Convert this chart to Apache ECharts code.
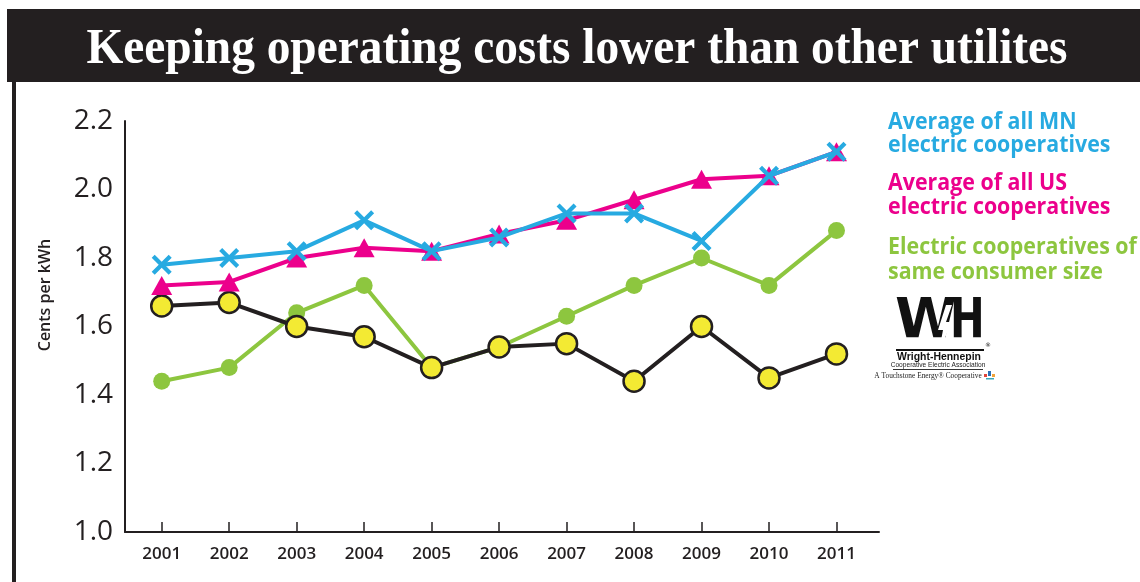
<!DOCTYPE html>
<html>
<head>
<meta charset="utf-8">
<title>Keeping operating costs lower than other utilites</title>
<script src="https://cdn.jsdelivr.net/npm/echarts@6/dist/echarts.min.js"></script>
<style>
  html, body { margin: 0; padding: 0; background: #ffffff; }
  #chart { width: 1140px; height: 582px; }
</style>
</head>
<body>
<div id="chart"></div>
<script>
// Cost of electricity, cents per kWh, 2001-2011
const years = [2001, 2002, 2003, 2004, 2005, 2006, 2007, 2008, 2009, 2010, 2011];
const yTicks = [1.0, 1.2, 1.4, 1.6, 1.8, 2.0, 2.2];

const mnCoops    = [1.78, 1.80, 1.82, 1.91, 1.82, 1.86, 1.93, 1.93, 1.85, 2.04, 2.11];
const usCoops    = [1.72, 1.73, 1.80, 1.83, 1.82, 1.87, 1.91, 1.97, 2.03, 2.04, 2.11];
const sameSize   = [1.44, 1.48, 1.64, 1.72, 1.48, 1.54, 1.63, 1.72, 1.80, 1.72, 1.88];
const wrightHenn = [1.66, 1.67, 1.60, 1.57, 1.48, 1.54, 1.55, 1.44, 1.60, 1.45, 1.52];

const titleText = 'Keeping operating costs lower than other utilites';
const legendLines = [
  { text: 'Average of all MN', color: '#27aae1' },
  { text: 'electric cooperatives', color: '#27aae1' },
  { text: 'Average of all US', color: '#ec008c' },
  { text: 'electric cooperatives', color: '#ec008c' },
  { text: 'Electric cooperatives of', color: '#8dc63f' },
  { text: 'same consumer size', color: '#8dc63f' }
];

const INK = '#231f20';
const pair = vals => vals.map((v, i) => [years[i], v]);

// thick "x" marker as a filled outline
const crossPath = 'path://M3,0 L10,7 L17,0 L20,3 L13,10 L20,17 L17,20 L10,13 L3,20 L0,17 L7,10 L0,3 Z';

// fit the condensed-looking headline into its band
function textWidth(str, font) {
  const c = document.createElement('canvas').getContext('2d');
  c.font = font;
  return c.measureText(str).width;
}
const titleFont = 'bold 50px "Liberation Serif"';
const titleScale = 981 / textWidth(titleText, titleFont);

const legendY = [122, 145, 183, 207, 247, 272];

const chart = echarts.init(document.getElementById('chart'), null, { renderer: 'canvas' });

const graphics = [
  { type: 'rect', shape: { x: 7, y: 9, width: 1133, height: 73 }, style: { fill: INK }, z: 0 },
  { type: 'rect', shape: { x: 12, y: 82, width: 4, height: 500 }, style: { fill: INK }, z: 0 },
  {
    type: 'text', x: 577, y: 50, scaleX: titleScale, scaleY: 1,
    style: { text: titleText, font: titleFont, fill: '#ffffff', align: 'center', verticalAlign: 'middle' }
  },
  {
    type: 'text', x: 45, y: 295, rotation: Math.PI / 2,
    style: { text: 'Cents per kWh', fontFamily: 'Open Sans', fontWeight: 600, fontSize: 16, fill: INK, align: 'center', verticalAlign: 'middle' }
  }
];

legendLines.forEach((l, i) => {
  graphics.push({
    type: 'text', x: 888, y: legendY[i], scaleX: 0.93, scaleY: 1,
    style: { text: l.text, fontFamily: 'Open Sans', fontWeight: 'bold', fontSize: 23, fill: l.color, align: 'left', verticalAlign: 'middle' }
  });
});

// Wright-Hennepin logo
graphics.push(
  { type: 'text', x: 895, y: 350, scaleX: 1.0, scaleY: 1.0,
    style: { text: 'W', fontFamily: 'DejaVu Sans', fontWeight: 'bold', fontSize: 56, fill: '#111', align: 'left', verticalAlign: 'bottom' } },
  { type: 'text', x: 950, y: 350, scaleX: 0.74, scaleY: 1.0,
    style: { text: 'H', fontFamily: 'DejaVu Sans', fontWeight: 'bold', fontSize: 56, fill: '#111', align: 'left', verticalAlign: 'bottom' } },
  { type: 'polygon', shape: { points: [[946, 305], [952, 305], [946, 322], [952, 322], [939, 351], [943, 330], [938, 330]] }, style: { fill: '#ffffff' } },
  { type: 'rect', shape: { x: 896, y: 349, width: 88, height: 2 }, style: { fill: '#111' } },
  { type: 'text', x: 985, y: 345, style: { text: '®', fontFamily: 'DejaVu Sans', fontSize: 6, fill: '#111', align: 'left', verticalAlign: 'middle' } },
  { type: 'text', x: 939, y: 357, scaleX: 0.95, scaleY: 1,
    style: { text: 'Wright-Hennepin', fontFamily: 'Liberation Sans', fontWeight: 'bold', fontSize: 11, fill: '#111', align: 'center', verticalAlign: 'middle' } },
  { type: 'text', x: 938, y: 365, scaleX: 0.88, scaleY: 1,
    style: { text: 'Cooperative Electric Association', fontFamily: 'Liberation Sans', fontSize: 7.5, fill: '#222', align: 'center', verticalAlign: 'middle' } },
  { type: 'rect', shape: { x: 893, y: 369, width: 90, height: 1 }, style: { fill: '#333' } },
  { type: 'text', x: 928, y: 376, scaleX: 0.92, scaleY: 1,
    style: { text: 'A Touchstone Energy® Cooperative', fontFamily: 'Liberation Serif', fontSize: 8, fill: '#222', align: 'center', verticalAlign: 'middle' } },
  { type: 'rect', shape: { x: 984, y: 374, width: 3, height: 3 }, style: { fill: '#e0453b' } },
  { type: 'rect', shape: { x: 988, y: 371, width: 3, height: 5 }, style: { fill: '#2b6fb6' } },
  { type: 'rect', shape: { x: 992, y: 374, width: 3, height: 3 }, style: { fill: '#f2a33a' } },
  { type: 'rect', shape: { x: 986, y: 378, width: 8, height: 1.5 }, style: { fill: '#3aa7b8' } }
);

const option = {
  backgroundColor: '#ffffff',
  animation: false,
  grid: { left: 125, right: 261, top: 121, bottom: 50, containLabel: false },
  xAxis: {
    type: 'value',
    min: 2000.456,
    max: 2011.63,
    splitLine: { show: false },
    axisLine: { show: true, onZero: false, lineStyle: { color: INK, width: 2 } },
    axisTick: { show: true, inside: true, length: 10, customValues: years, lineStyle: { color: INK, width: 1.5 } },
    axisLabel: {
      customValues: years,
      margin: 14,
      color: INK, fontFamily: 'Open Sans', fontWeight: 600, fontSize: 17,
      formatter: v => String(Math.round(v))
    }
  },
  yAxis: {
    type: 'value',
    min: yTicks[0],
    max: yTicks[yTicks.length - 1],
    interval: 0.2,
    splitLine: { show: false },
    axisLine: { show: true, lineStyle: { color: INK, width: 2 } },
    axisTick: { show: false },
    axisLabel: {
      margin: 12, color: INK, fontFamily: 'Open Sans', fontSize: 28,
      formatter: v => v.toFixed(1)
    }
  },
  graphic: graphics,
  series: [
    {
      name: 'Electric cooperatives of same consumer size',
      type: 'line', z: 2,
      data: pair(sameSize),
      symbol: 'circle', symbolSize: 17,
      lineStyle: { color: '#8dc63f', width: 4 },
      itemStyle: { color: '#8dc63f' }
    },
    {
      name: 'Wright-Hennepin',
      type: 'line', z: 3,
      data: pair(wrightHenn),
      symbol: 'circle', symbolSize: 21,
      lineStyle: { color: INK, width: 4 },
      itemStyle: { color: '#f3ea33', borderColor: INK, borderWidth: 2.5 }
    },
    {
      name: 'Average of all US electric cooperatives',
      type: 'line', z: 4,
      data: pair(usCoops),
      symbol: 'triangle', symbolSize: [21, 19],
      lineStyle: { color: '#ec008c', width: 4 },
      itemStyle: { color: '#ec008c' }
    },
    {
      name: 'Average of all MN electric cooperatives',
      type: 'line', z: 5,
      data: pair(mnCoops),
      symbol: crossPath, symbolSize: 20,
      lineStyle: { color: '#27aae1', width: 4 },
      itemStyle: { color: '#27aae1' }
    }
  ]
};

chart.setOption(option);
</script>
</body>
</html>
